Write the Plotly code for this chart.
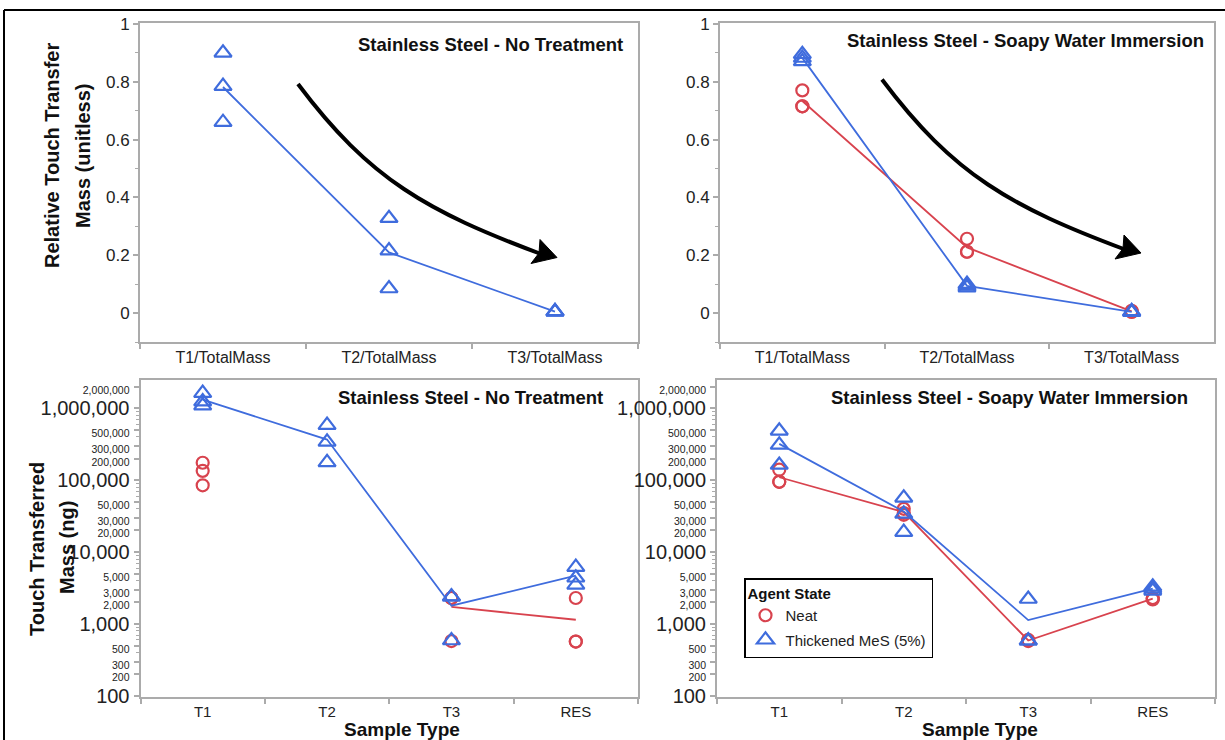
import numpy as np
import plotly.graph_objects as go

W, H = 1225, 740
FONT = "Liberation Sans, Arial, Helvetica, sans-serif"
RED = "#D8434E"
BLUE = "#3F6CDD"
GRAY = "#ABABAB"

# ---------------- data ----------------
ratio_categories = ["T1/TotalMass", "T2/TotalMass", "T3/TotalMass"]
mass_categories = ["T1", "T2", "T3", "RES"]

# replicate values, one list per category
nt_ratio_thick = [[0.900, 0.785, 0.660], [0.328, 0.216, 0.085], [0.006, 0.005, 0.004]]
sw_ratio_neat = [[0.770, 0.715, 0.715], [0.257, 0.212, 0.212], [0.008, 0.005, 0.004]]
sw_ratio_thick = [[0.895, 0.882, 0.870], [0.100, 0.094, 0.088], [0.006, 0.004, 0.003]]

nt_mass_neat = [[175000, 135000, 85000], [], [2300, 2300, 580], [2300, 570, 570]]
nt_mass_thick = [[1630000, 1240000, 1090000], [585000, 342000, 177000], [2400, 2400, 590], [6200, 4400, 3500]]
sw_mass_neat = [[140000, 95000, 95000], [40000, 35000, 33000], [600, 590, 580], [2300, 2250, 2200]]
sw_mass_thick = [[487000, 310000, 163000], [57000, 34000, 19000], [2230, 585, 585], [3300, 3100, 2900]]

ratio_tickvals = [0, 0.2, 0.4, 0.6, 0.8, 1]
ratio_ticktext = ["0", "0.2", "0.4", "0.6", "0.8", "1"]
ratio_minor = [-0.1, 0.1, 0.3, 0.5, 0.7, 0.9]

mass_tickvals = [100, 200, 300, 500, 1000, 2000, 3000, 5000, 10000, 20000, 30000, 50000,
                 100000, 200000, 300000, 500000, 1000000, 2000000]
mass_major = [100, 1000, 10000, 100000, 1000000]

panel_titles = ["Stainless Steel - No Treatment", "Stainless Steel - Soapy Water Immersion",
                "Stainless Steel - No Treatment", "Stainless Steel - Soapy Water Immersion"]
series_names = ["Neat", "Thickened MeS (5%)"]


def px(x):
    return x / W


def py(y):
    return 1 - y / H


def mass_label(v):
    s = f"{v:,}"
    if v in mass_major:
        return s
    return f'<span style="font-size:10.5px">{s}</span>'


mass_minor = []
for dec in [100, 1000, 10000, 100000, 1000000]:
    for m in range(2, 10):
        v = dec * m
        if v not in mass_tickvals and v < 2600000:
            mass_minor.append(v)

fig = go.Figure()

STYLE = {
    "Neat": dict(color=RED, symbol="circle-open", size=12),
    "Thickened MeS (5%)": dict(color=BLUE, symbol="triangle-up-open", size=15),
}


def add_series(cats, data, name, xa, ya, show_legend):
    st = STYLE[name]
    means = [float(np.mean(v)) if len(v) else None for v in data]
    fig.add_trace(go.Scatter(
        x=cats, y=means, mode="lines", line=dict(color=st["color"], width=1.8),
        connectgaps=False, showlegend=False, hoverinfo="skip", xaxis=xa, yaxis=ya))
    xs, ys = [], []
    for c, vals in zip(cats, data):
        for v in vals:
            xs.append(c)
            ys.append(v)
    fig.add_trace(go.Scatter(
        x=xs, y=ys, mode="markers", name=name, legendgroup=name, showlegend=show_legend,
        marker=dict(symbol=st["symbol"], size=st["size"], color=st["color"],
                    line=dict(color=st["color"], width=2.2)),
        xaxis=xa, yaxis=ya))


# top-left: only thickened
add_series(ratio_categories, nt_ratio_thick, "Thickened MeS (5%)", "x", "y", False)
# top-right
add_series(ratio_categories, sw_ratio_neat, "Neat", "x2", "y2", False)
add_series(ratio_categories, sw_ratio_thick, "Thickened MeS (5%)", "x2", "y2", False)
# bottom-left
add_series(mass_categories, nt_mass_neat, "Neat", "x3", "y3", False)
add_series(mass_categories, nt_mass_thick, "Thickened MeS (5%)", "x3", "y3", False)
# bottom-right
add_series(mass_categories, sw_mass_neat, "Neat", "x4", "y4", True)
add_series(mass_categories, sw_mass_thick, "Thickened MeS (5%)", "x4", "y4", True)

AX = dict(showline=True, linecolor=GRAY, linewidth=2, mirror=True, ticks="outside",
          tickcolor=GRAY, ticklen=5, tickwidth=1.5, showgrid=False, zeroline=False,
          automargin=False, tickfont=dict(family=FONT, size=14, color="#222"))

top_y = [py(342), py(23)]
bot_y = [py(697), py(380)]

for i, (xd, yd, cats, anchor) in enumerate([
        ([px(140), px(638)], top_y, ratio_categories, "y"),
        ([px(720), px(1214)], top_y, ratio_categories, "y2"),
        ([px(140.5), px(638)], bot_y, mass_categories, "y3"),
        ([px(717), px(1215)], bot_y, mass_categories, "y4")]):
    key = "xaxis" if i == 0 else f"xaxis{i + 1}"
    fig.layout[key] = dict(AX, domain=xd, anchor=anchor, type="category",
                           categoryorder="array", categoryarray=cats,
                           range=[-0.5, len(cats) - 0.5], tickson="boundaries",
                           tickfont=dict(family=FONT, size=16 if i < 2 else 15, color="#222"))

for i, (yd, anchor) in enumerate([(top_y, "x"), (top_y, "x2")]):
    key = "yaxis" if i == 0 else f"yaxis{i + 1}"
    fig.layout[key] = dict(AX, domain=yd, anchor=anchor, range=[-0.1, 1.003],
                           tickmode="array", tickvals=ratio_tickvals, ticktext=ratio_ticktext,
                           tickfont=dict(family=FONT, size=17, color="#222"),
                           minor=dict(tickmode="array", tickvals=ratio_minor, ticks="outside",
                                      ticklen=3, tickcolor=GRAY, tickwidth=1))

for i, (yd, anchor) in enumerate([(bot_y, "x3"), (bot_y, "x4")]):
    key = f"yaxis{i + 3}"
    fig.layout[key] = dict(AX, domain=yd, anchor=anchor, type="log", range=[1.985, 6.394],
                           tickmode="array", tickvals=mass_tickvals,
                           ticktext=[mass_label(v) for v in mass_tickvals],
                           tickfont=dict(family=FONT, size=20, color="#222"),
                           minor=dict(tickmode="array", tickvals=mass_minor, ticks="outside",
                                      ticklen=3, tickcolor=GRAY, tickwidth=1))

annotations = []
title_pos = [(625, 44), (1206, 41), (605, 398), (1190, 398)]
for t, (x, y) in zip(panel_titles, title_pos):
    annotations.append(dict(text=f"<b>{t}</b>", x=px(x), y=py(y), xref="paper", yref="paper",
                            xanchor="right", yanchor="middle", showarrow=False,
                            font=dict(family=FONT, size=18.5, color="#111")))

for txt, x, y in [("Relative Touch Transfer", 52, 156), ("Mass (unitless)", 83, 156),
                  ("Touch Transferred", 37, 549), ("Mass (ng)", 67, 548)]:
    annotations.append(dict(text=f"<b>{txt}</b>", x=px(x), y=py(y), xref="paper", yref="paper",
                            xanchor="center", yanchor="middle", textangle=-90, showarrow=False,
                            font=dict(family=FONT, size=20, color="#111")))

for x in [402, 980]:
    annotations.append(dict(text="<b>Sample Type</b>", x=px(x), y=py(729), xref="paper",
                            yref="paper", xanchor="center", yanchor="middle", showarrow=False,
                            font=dict(family=FONT, size=19, color="#111")))

shapes = []


def curve_arrow(dx, dy):
    p0 = (298 + dx, 84 + dy)
    c1 = (370 + dx, 180 + dy)
    c2 = (427.4 + dx, 211.4 + dy)
    p3 = (541 + dx, 254 + dy)
    path = "M {},{} C {},{} {},{} {},{}".format(
        px(p0[0]), py(p0[1]), px(c1[0]), py(c1[1]), px(c2[0]), py(c2[1]), px(p3[0]), py(p3[1]))
    shapes.append(dict(type="path", path=path, xref="paper", yref="paper",
                       line=dict(color="black", width=4)))
    tip = (557 + dx, 257.5 + dy)
    a = (540 + dx, 239.5 + dy)
    notch = (539 + dx, 253 + dy)
    b = (531 + dx, 263.5 + dy)
    head = "M {},{} L {},{} L {},{} L {},{} Z".format(
        px(tip[0]), py(tip[1]), px(a[0]), py(a[1]), px(notch[0]), py(notch[1]), px(b[0]), py(b[1]))
    shapes.append(dict(type="path", path=head, xref="paper", yref="paper",
                       fillcolor="black", line=dict(color="black", width=1)))


curve_arrow(0, 0)
curve_arrow(584, -4.5)

# outer frame (top and left edges)
shapes.append(dict(type="line", xref="paper", yref="paper", x0=px(4), x1=1, y0=py(10), y1=py(10),
                   line=dict(color="black", width=2)))
shapes.append(dict(type="line", xref="paper", yref="paper", x0=px(4), x1=px(4), y0=py(10), y1=0,
                   line=dict(color="black", width=2)))

fig.update_layout(
    width=W, height=H, margin=dict(l=0, r=0, t=0, b=0),
    paper_bgcolor="white", plot_bgcolor="white",
    font=dict(family=FONT, color="#222"),
    annotations=annotations, shapes=shapes,
    legend=dict(x=px(744), y=py(578), xanchor="left", yanchor="top",
                bgcolor="white", bordercolor="black", borderwidth=1.5,
                title=dict(text="<b>Agent State</b>", font=dict(family=FONT, size=15, color="#111")),
                font=dict(family=FONT, size=15, color="#222"), tracegroupgap=2),
)

fig.write_html("out.html")
